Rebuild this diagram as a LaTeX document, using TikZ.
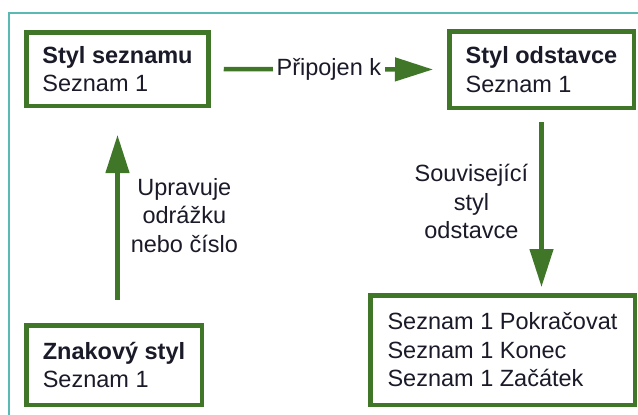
\documentclass[tikz,border=0pt]{standalone}
\usepackage{fontspec}
\setmainfont{Liberation Sans}
\usepackage{tikz}
\usetikzlibrary{arrows.meta,positioning}
\usepackage{xcolor}

\definecolor{boxgreen}{RGB}{64,118,40}
\definecolor{frameteal}{RGB}{92,184,178}
\definecolor{inkdark}{RGB}{26,26,40}

\begin{document}
\begin{tikzpicture}[
  x=1pt, y=-1pt,
  box/.style={draw=boxgreen, line width=4.5pt, fill=white, align=left,
    inner sep=0pt, text=inkdark, font=\fontsize{23.5}{28.5}\selectfont},
  flow/.style={-{Triangle[length=38pt, width=23pt]}, line width=4.5pt, draw=boxgreen},
  flowlabel/.style={font=\fontsize{23.5}{28.5}\selectfont, text=inkdark, fill=white,
    align=center, inner sep=4pt},
  frame/.style={draw=frameteal, line width=1.2pt}
]
  \useasboundingbox (0,0) rectangle (638,415);

  % outer frame (open towards the right and bottom)
  \coordinate (fbl) at (9,415);
  \coordinate (ftl) at (9,13);
  \coordinate (ftr) at (638,13);
  \draw[frame] (fbl) -- (ftl) -- (ftr);

  % Styles
  \node[box, minimum width=182pt, minimum height=73.5pt] (list) at (117.5,69)
    {\textbf{Styl seznamu}\\Seznam 1};
  \node[box, minimum width=184.5pt, minimum height=76.5pt] (para) at (541.5,69.5)
    {\textbf{Styl odstavce}\\Seznam 1};
  \node[box, minimum width=175.5pt, minimum height=79.5pt] (char) at (114,365)
    {\textbf{Znakový styl}\\Seznam 1};
  \node[box, minimum width=264.5pt, minimum height=109.5pt] (next) at (502.5,350)
    {Seznam 1 Pokračovat\\Seznam 1 Konec\\Seznam 1 Začátek};

  % Links
  \draw[flow, shorten <=13pt, shorten >=14pt] (list.east)
    -- node[flowlabel] {Připojen k} (para.west);
  \draw[flow, shorten <=23pt, shorten >=27pt] (char.north -| list.south)
    -- node[flowlabel, midway, right=7pt] {Upravuje\\odrážku\\nebo číslo} (list.south);
  \draw[flow, shorten <=12pt, shorten >=6pt] (para.south)
    -- node[flowlabel, midway, left=7pt] {Související\\styl\\odstavce} (para.south |- next.north);

\end{tikzpicture}
\end{document}
